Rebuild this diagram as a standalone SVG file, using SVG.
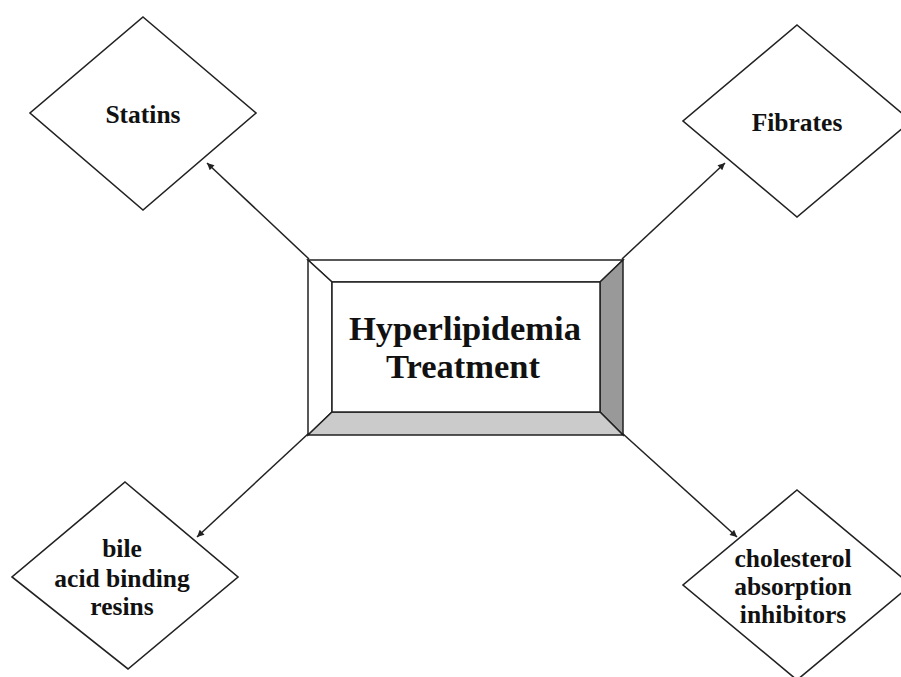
<svg xmlns="http://www.w3.org/2000/svg" width="901" height="677" viewBox="0 0 901 677">
<style>
.d{fill:#fff;stroke:#222;stroke-width:1.6}
.t{font-family:"Liberation Serif","Times New Roman",serif;font-weight:bold;fill:#111;text-anchor:middle}
.s{font-size:25.5px}
.c{stroke:#222;stroke-width:1.5;fill:none;marker-end:url(#ah)}
.b{stroke:#222;stroke-width:1.5}
</style>
<defs>
<marker id="ah" viewBox="0 0 10 10" refX="10" refY="5" markerWidth="10" markerHeight="7" markerUnits="userSpaceOnUse" orient="auto">
<path d="M0,0 L10,5 L0,10 z" fill="#222"/>
</marker>
</defs>
<rect width="901" height="677" fill="#fff"/>
<g id="connectors">
<line class="c" x1="309" y1="259" x2="207" y2="163"/>
<line class="c" x1="622" y1="259" x2="725" y2="163"/>
<line class="c" x1="309" y1="433" x2="197" y2="537"/>
<line class="c" x1="622" y1="433" x2="737" y2="537"/>
</g>
<g id="center">
<polygon class="b" points="308,260 623,260 600,282 332,282" fill="#fff"/>
<polygon class="b" points="308,260 332,282 332,412 308,435" fill="#fff"/>
<polygon class="b" points="623,260 623,435 600,412 600,282" fill="#999"/>
<polygon class="b" points="308,435 332,412 600,412 623,435" fill="#cbcbcb"/>
<rect class="b" x="332" y="282" width="268" height="130" fill="#fff"/>
<text class="t" x="465" y="340" font-size="34.5">Hyperlipidemia</text>
<text class="t" x="463" y="378" font-size="34.5">Treatment</text>
</g>
<g id="statins">
<polygon class="d" points="143,17 256,113 143,210 30,113"/>
<text class="t s" x="143" y="123">Statins</text>
</g>
<g id="fibrates">
<polygon class="d" points="797,25 911,121 797,217 683,121"/>
<text class="t s" x="797" y="131">Fibrates</text>
</g>
<g id="bile">
<polygon class="d" points="125,482 238,577 128,669 12,577"/>
<text class="t s" x="122" y="557">bile</text>
<text class="t s" x="122" y="587">acid binding</text>
<text class="t s" x="122" y="615">resins</text>
</g>
<g id="cholesterol">
<polygon class="d" points="797,490 911,585 797,680 683,585"/>
<text class="t s" x="793" y="567">cholesterol</text>
<text class="t s" x="793" y="595">absorption</text>
<text class="t s" x="793" y="623">inhibitors</text>
</g>
</svg>
